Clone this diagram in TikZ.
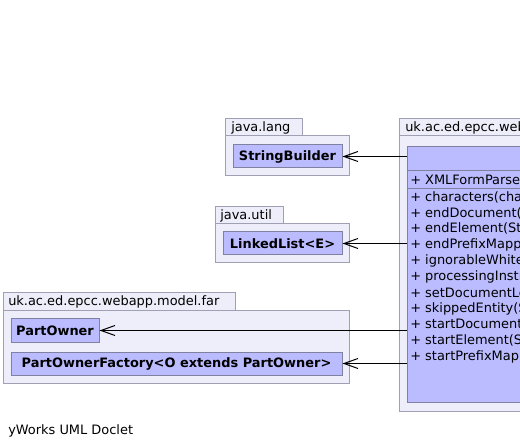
\documentclass[tikz,border=0pt]{standalone}
\usepackage{fontspec}
\setmainfont{DejaVu Sans}
\usetikzlibrary{arrows.meta}
\definecolor{pkgfill}{RGB}{238,238,250}
\definecolor{pkgdraw}{RGB}{160,160,180}
\definecolor{clsfill}{RGB}{187,187,255}
\definecolor{clsdraw}{RGB}{128,128,160}
\begin{document}
\begin{tikzpicture}[x=0.75pt,y=-0.75pt, font=\fontsize{9.7}{11}\selectfont,
 pkg/.style={draw=pkgdraw, fill=pkgfill, line width=0.75pt},
 cls/.style={draw=clsdraw, fill=clsfill, line width=0.75pt, inner sep=0pt, font=\fontsize{9.7}{11}\selectfont\bfseries},
 lbl/.style={anchor=west, inner sep=0pt},
 dep/.style={draw=black, line width=0.75pt, -{Straight Barb[length=10.5pt,width=7.5pt]}}]
\useasboundingbox (0,0) rectangle (520,448);
\fill[white] (0,0) rectangle (520,448);

% java.lang
\draw[pkg] (225,119) rectangle (302,136);
\draw[pkg] (225,136) rectangle (349,176);
\node[lbl] (langname) at (231,127.5) {java.lang};
\node[cls, minimum width=81.75pt, minimum height=17.25pt] (sb) at (287.5,156.5) {StringBuilder};

% java.util
\draw[pkg] (215,207) rectangle (283,224);
\draw[pkg] (215,224) rectangle (349,263);
\node[lbl] (utilname) at (220,215.5) {java.util};
\node[cls, minimum width=89.25pt, minimum height=17.25pt] (lk) at (282.5,243.5) {LinkedList<E>};

% model.far
\draw[pkg] (3,293) rectangle (235,311);
\draw[pkg] (3,311) rectangle (349,383);
\node[lbl] (farname) at (8,302) {uk.ac.ed.epcc.webapp.model.far};
\node[cls, minimum width=66pt, minimum height=17.25pt] (po) at (55,330.5) {PartOwner};
\node[cls, minimum width=248.25pt, minimum height=17.25pt] (pof) at (176.5,363.5) {PartOwnerFactory<O extends PartOwner>};

% main package
\draw[pkg] (399,119) rectangle (600,136);
\draw[pkg] (399,136) rectangle (600,411);
\node[lbl] (mainname) at (405,127.5) {uk.ac.ed.epcc.webapp.model.far.handler};
\node[cls, anchor=north west, minimum width=140pt, minimum height=192pt] (xml) at (407,146) {};
\draw[clsdraw, line width=0.75pt] (407,171) -- (600,171);
\draw[clsdraw, line width=0.75pt] (407,188.5) -- (600,188.5);
\node[lbl] (c0) at (410,180) {+ XMLFormParser()};
\node[lbl] (m1) at (410,197) {+ characters(char[], int, int)};
\node[lbl] (m2) at (410,213) {+ endDocument()};
\node[lbl] (m3) at (410,229) {+ endElement(String, String, String)};
\node[lbl] (m4) at (410,245) {+ endPrefixMapping(String)};
\node[lbl] (m5) at (410,261) {+ ignorableWhitespace(char[], int, int)};
\node[lbl] (m6) at (410,277) {+ processingInstruction(String, String)};
\node[lbl] (m7) at (410,293) {+ setDocumentLocator(Locator)};
\node[lbl] (m8) at (410,308.5) {+ skippedEntity(String)};
\node[lbl] (m9) at (410,324.5) {+ startDocument()};
\node[lbl] (m10) at (410,340.5) {+ startElement(String, String, String, Attributes)};
\node[lbl] (m11) at (410,356.5) {+ startPrefixMapping(String, String)};

% dependencies
\draw[dep] (sb.east -| xml.west) -- (sb.east);
\draw[dep] (lk.east -| xml.west) -- (lk.east);
\draw[dep] (po.east -| xml.west) -- (po.east);
\draw[dep] (pof.east -| xml.west) -- (pof.east);

\node[lbl] (credit) at (8,431) {yWorks UML Doclet};
\end{tikzpicture}
\end{document}
